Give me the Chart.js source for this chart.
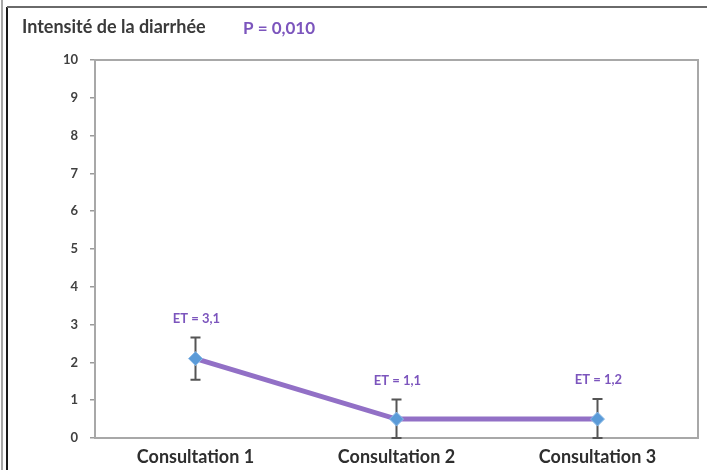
<!DOCTYPE html>
<html lang="fr">
<head>
<meta charset="utf-8">
<title>Intensité de la diarrhée</title>
<script src="https://cdn.jsdelivr.net/npm/chart.js@4.4.1/dist/chart.umd.min.js"></script>
<style>
  html, body { margin: 0; padding: 0; background: #ffffff; }
  #wrap { position: relative; width: 707px; height: 470px; }
</style>
</head>
<body>
<div id="wrap"><canvas id="graphique" width="707" height="470"></canvas></div>
<script>
// Données
const consultations = ['Consultation 1', 'Consultation 2', 'Consultation 3'];
const moyennes = [2.1, 0.5, 0.5];
const erreurs = [0.56, 0.52, 0.53];
const etiquettesET = ['ET = 3,1', 'ET = 1,1', 'ET = 1,2'];
const graduationsY = [0, 1, 2, 3, 4, 5, 6, 7, 8, 9, 10];
const titre = 'Intensité de la diarrhée';
const valeurP = 'P = 0,010';

const VIOLET = '#9270c6';
const VIOLET_TEXTE = '#7c55bd';
const FONTE = 'Lato, "Open Sans", sans-serif';

// Cadre de la page, titre et valeur P
const decor = {
  id: 'decor',
  beforeDraw(chart) {
    const ctx = chart.ctx;
    ctx.save();
    ctx.fillStyle = '#ffffff';
    ctx.fillRect(0, 0, chart.width, chart.height);
    ctx.lineWidth = 1.5;
    ctx.strokeStyle = '#8a8a8a';
    ctx.beginPath(); ctx.moveTo(2, 0); ctx.lineTo(2, chart.height); ctx.stroke();
    ctx.strokeStyle = '#1a1a1a';
    ctx.lineWidth = 2;
    ctx.beginPath(); ctx.moveTo(7, 7); ctx.lineTo(7, chart.height); ctx.stroke();
    ctx.strokeStyle = '#6a6a6a';
    ctx.lineWidth = 2;
    ctx.beginPath(); ctx.moveTo(7, 7); ctx.lineTo(chart.width, 7); ctx.stroke();

    ctx.textBaseline = 'middle';
    ctx.textAlign = 'left';
    ctx.font = 'bold 18px ' + FONTE;
    ctx.fillStyle = '#3a3a3a';
    ctx.fillText(titre, 22, 27);
    ctx.font = 'bold 17px ' + FONTE;
    ctx.fillStyle = VIOLET_TEXTE;
    ctx.fillText(valeurP, 243, 29);
    ctx.restore();
  },
  beforeDatasetsDraw(chart) {
    const { ctx, chartArea: a, scales } = chart;
    ctx.save();
    // bordure de la zone du graphique
    ctx.strokeStyle = '#a8a8a8';
    ctx.lineWidth = 2;
    ctx.strokeRect(a.left, a.top, a.right - a.left, a.bottom - a.top);
    // barres d'erreur
    ctx.strokeStyle = '#555555';
    ctx.lineWidth = 2;
    moyennes.forEach((m, i) => {
      const x = scales.x.getPixelForValue(i);
      const yHaut = scales.y.getPixelForValue(m + erreurs[i]);
      const yBas = scales.y.getPixelForValue(Math.max(0, m - erreurs[i]));
      ctx.beginPath();
      ctx.moveTo(x, yHaut); ctx.lineTo(x, yBas);
      ctx.moveTo(x - 5, yHaut); ctx.lineTo(x + 5, yHaut);
      ctx.moveTo(x - 5, yBas); ctx.lineTo(x + 5, yBas);
      ctx.stroke();
    });
    ctx.restore();
  },
  afterDatasetsDraw(chart) {
    const { ctx, scales } = chart;
    ctx.save();
    ctx.font = 'bold 13px ' + FONTE;
    ctx.fillStyle = VIOLET_TEXTE;
    ctx.textAlign = 'center';
    ctx.textBaseline = 'middle';
    moyennes.forEach((m, i) => {
      const x = scales.x.getPixelForValue(i);
      const y = scales.y.getPixelForValue(m + erreurs[i]) - 19;
      ctx.fillText(etiquettesET[i], x + 1, y);
    });
    ctx.restore();
  }
};

new Chart(document.getElementById('graphique'), {
  type: 'line',
  data: {
    labels: consultations,
    datasets: [{
      data: moyennes,
      borderColor: VIOLET,
      borderWidth: 5,
      pointStyle: 'rectRot',
      pointRadius: 7,
      pointBackgroundColor: '#5b9bd8',
      pointBorderColor: '#8cbbe8',
      pointBorderWidth: 1,
      tension: 0,
      fill: false
    }]
  },
  options: {
    responsive: false,
    animation: false,
    layout: { padding: { left: 0, top: 60, right: 9, bottom: 0 } },
    plugins: { legend: { display: false }, tooltip: { enabled: false }, title: { display: false } },
    scales: {
      x: {
        offset: true,
        grid: { display: false, drawTicks: false },
        border: { display: false },
        ticks: {
          padding: 8,
          color: '#2e2e2e',
          font: { family: FONTE, size: 18, weight: 'bold' },
          maxRotation: 0
        },
        afterFit(scale) { scale.height = 32; }
      },
      y: {
        min: 0,
        max: 10,
        afterBuildTicks(scale) { scale.ticks = graduationsY.map(v => ({ value: v })); },
        grid: { drawOnChartArea: false, drawTicks: true, tickLength: 5, color: '#9a9a9a', lineWidth: 1.5 },
        border: { display: false },
        ticks: {
          padding: 12,
          color: '#404040',
          font: { family: FONTE, size: 13, weight: 'bold' }
        },
        afterFit(scale) { scale.width = 95; }
      }
    }
  },
  plugins: [decor]
});
</script>
</body>
</html>
